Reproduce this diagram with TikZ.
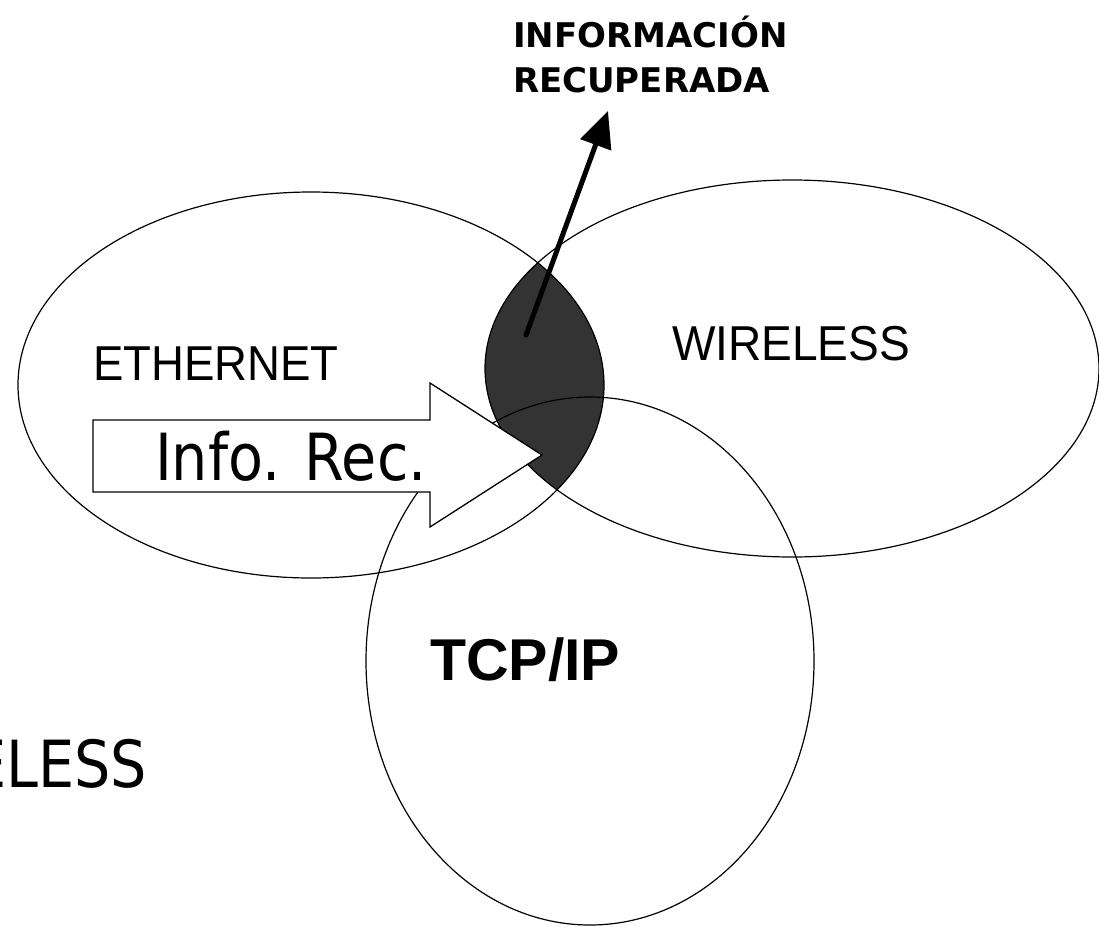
\documentclass[tikz,border=0pt]{standalone}
\usepackage{fontspec}
\setmainfont{DejaVu Sans}
\newfontfamily\arialf{Liberation Sans}
\newfontfamily\tahf{DejaVu Sans}
\usetikzlibrary{arrows.meta,shapes.geometric}
\definecolor{lensgray}{RGB}{51,51,51}
\tikzset{
  setring/.style={draw=black, line width=1.2pt, ellipse, inner sep=0pt, outer sep=0pt},
  lbl/.style={inner sep=0pt, outer sep=0pt, anchor=base west},
}
\begin{document}
\begin{tikzpicture}[x=1pt,y=-1pt]
\useasboundingbox[fill=white] (0,0) rectangle (1099,926);
% lens (intersection of Ethernet and Wireless)
\begin{scope}
  \clip (311,385) ellipse [x radius=293, y radius=193];
  \fill[lensgray] (792,368.5) ellipse [x radius=307, y radius=188.5];
\end{scope}
\node[setring, minimum width=586, minimum height=386] (eth) at (311,385) {};
\node[setring, minimum width=614, minimum height=377] (wir) at (792,368.5) {};
\node[setring, minimum width=448, minimum height=528] (tcp) at (590,661) {};
% labels
\node[lbl] (ethl) at (93,380) {\scalebox{0.93}[1]{\arialf\fontsize{49}{55}\selectfont ETHERNET}};
\node[lbl] (wirl) at (672,360) {\scalebox{0.94}[1]{\arialf\fontsize{49}{55}\selectfont WIRELESS}};
\node[lbl] (tcpl) at (430,680) {\arialf\bfseries\fontsize{59}{65}\selectfont TCP/IP};
\node[lbl] (inf1) at (513,47) {\tahf\bfseries\fontsize{34}{40}\selectfont INFORMACIÓN};
\node[lbl] (inf2) at (513,92) {\tahf\bfseries\fontsize{34}{40}\selectfont RECUPERADA};
\node[inner sep=0pt, outer sep=0pt, anchor=base east] (eless) at (147,787) {\scalebox{0.88}[1]{\tahf\fontsize{65}{70}\selectfont ELESS}};
% block arrow
\draw[fill=white, line width=1.3pt, line join=miter] (93,420) -- (430,420) -- (430,383) -- (542,455) -- (430,527) -- (430,492) -- (93,492) -- cycle;
\node[lbl] (infrec) at (155,480) {\scalebox{0.88}[1]{\tahf\fontsize{65}{70}\selectfont Info. Rec.}};
% bold arrow
\coordinate (a0) at (526,335);
\coordinate (a1) at (608,111);
\draw[line width=5pt, line cap=round, -{Triangle[length=36pt,width=32pt]}] (a0) -- (a1);
\end{tikzpicture}
\end{document}
